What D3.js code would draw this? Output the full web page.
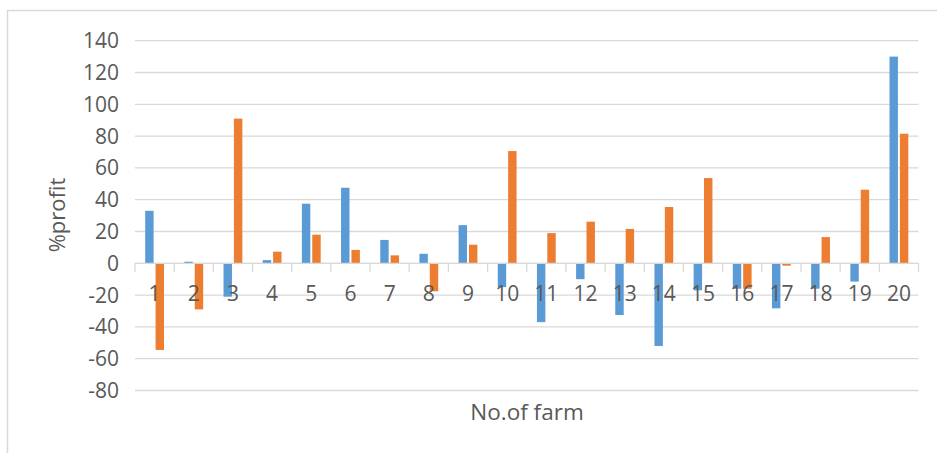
<!DOCTYPE html>
<html>
<head>
<meta charset="utf-8">
<script src="https://cdn.jsdelivr.net/npm/d3@7"></script>
<style>
  html, body { margin: 0; padding: 0; background: #fff; }
  svg { display: block; }
  text { font-family: "Open Sans", "Liberation Sans", sans-serif; fill: #595959; }
</style>
</head>
<body>
<svg id="chart" width="937" height="453"></svg>
<script>
// ---- data ----
const farms = ["1","2","3","4","5","6","7","8","9","10","11","12","13","14","15","16","17","18","19","20"];
const seriesA = [33, 1, -21, 2, 37.5, 47.5, 14.7, 6, 24, -15, -37, -10, -32.5, -52, -17, -16, -28.3, -16, -11.5, 130];
const seriesB = [-54.5, -29, 91, 7.3, 18, 8.4, 5, -17.6, 11.7, 70.6, 19, 26.2, 21.6, 35.4, 53.6, -16, -1.5, 16.5, 46.3, 81.5];
const yTicks = [140, 120, 100, 80, 60, 40, 20, 0, -20, -40, -60, -80];
const yTitle = "%profit";
const xTitle = "No.of farm";
const colors = ["#5b9bd5", "#ed7d31"];

// ---- layout ----
const svg = d3.select("#chart");
const plotLeft = 135, plotRight = 918.5, plotTop = 40.7, plotBottom = 390.5;

svg.append("rect")
  .attr("x", 7.5).attr("y", 10.5).attr("width", 960).attr("height", 460)
  .attr("fill", "none").attr("stroke", "#d9d9d9").attr("stroke-width", 1.5);

const x = d3.scaleBand().domain(farms).range([plotLeft, plotRight]).paddingInner(0).paddingOuter(0);
const y = d3.scaleLinear().domain([-80, 140]).range([plotBottom, plotTop]);

// gridlines
svg.append("g").selectAll("line").data(yTicks).join("line")
  .attr("x1", plotLeft).attr("x2", plotRight)
  .attr("y1", d => y(d)).attr("y2", d => y(d))
  .attr("stroke", "#d9d9d9").attr("stroke-width", 1.3);

// y tick labels
svg.append("g").selectAll("text").data(yTicks).join("text")
  .attr("x", 119).attr("y", d => y(d))
  .attr("dy", "0.36em")
  .attr("text-anchor", "end")
  .attr("font-size", 21)
  .text(d => d);

// bars
const bw = x.bandwidth();
const barW = bw * 0.215;
const gap = bw * 0.05;
const series = [seriesA, seriesB];
series.forEach((vals, si) => {
  svg.append("g").selectAll("rect").data(farms).join("rect")
    .attr("x", (d) => {
      const c = x(d) + bw / 2;
      return si === 0 ? c - gap / 2 - barW : c + gap / 2;
    })
    .attr("width", barW)
    .attr("y", (d, i) => Math.min(y(vals[i]), y(0)))
    .attr("height", (d, i) => Math.abs(y(vals[i]) - y(0)))
    .attr("fill", colors[si]);
});

// x axis line and ticks
const axisG = svg.append("g");
axisG.append("line")
  .attr("x1", plotLeft).attr("x2", plotRight)
  .attr("y1", y(0)).attr("y2", y(0))
  .attr("stroke", "#d9d9d9").attr("stroke-width", 1.3);
const bounds = farms.map(d => x(d)).concat([x(farms[farms.length - 1]) + bw]);
axisG.selectAll("line.tick").data(bounds).join("line")
  .attr("class", "tick")
  .attr("x1", d => d).attr("x2", d => d)
  .attr("y1", y(0)).attr("y2", y(0) + 9)
  .attr("stroke", "#d9d9d9").attr("stroke-width", 1.3);

// category labels
axisG.selectAll("text").data(farms).join("text")
  .attr("x", d => x(d) + bw / 2)
  .attr("y", 293)
  .attr("dy", "0.36em")
  .attr("text-anchor", "middle")
  .attr("font-size", 21)
  .text(d => d);

// axis titles
svg.append("text")
  .attr("transform", "translate(57,215) rotate(-90)")
  .attr("text-anchor", "middle")
  .attr("dy", "0.36em")
  .attr("font-size", 22)
  .text(yTitle);

svg.append("text")
  .attr("x", 527).attr("y", 411.5)
  .attr("dy", "0.36em")
  .attr("text-anchor", "middle")
  .attr("font-size", 22.5)
  .text(xTitle);
</script>
</body>
</html>
